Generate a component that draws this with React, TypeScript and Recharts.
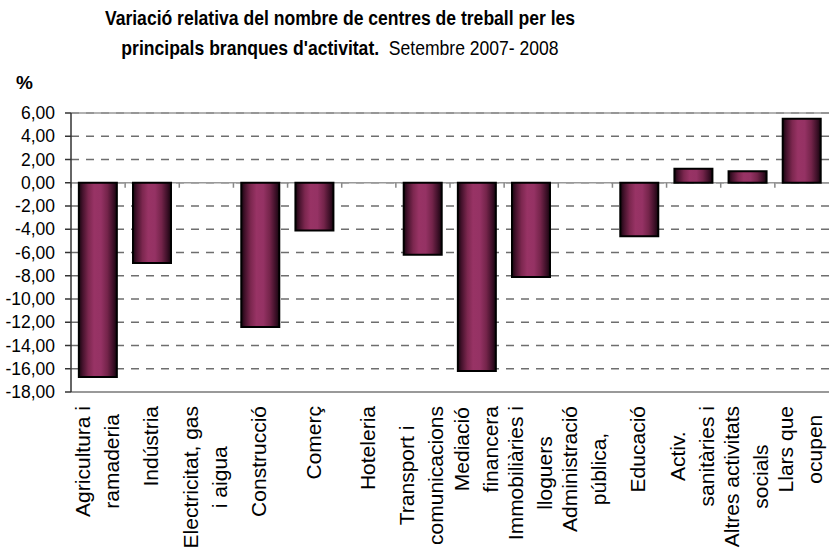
import { BarChart, Bar, XAxis, YAxis, CartesianGrid, ReferenceLine } from "recharts"

const categories = [
  "Agricultura i\nramaderia",
  "Indústria",
  "Electricitat, gas\ni aigua",
  "Construcció",
  "Comerç",
  "Hoteleria",
  "Transport i\ncomunicacions",
  "Mediació\nfinancera",
  "Immobiliàries i\nlloguers",
  "Administració\npública,",
  "Educació",
  "Activ.\nsanitàries i",
  "Altres activitats\nsocials",
  "Llars que\nocupen",
]

const variation: (number | null)[] = [-16.7, -6.9, null, -12.4, -4.1, null, -6.2, -16.2, -8.1, null, -4.6, 1.2, 1.0, 5.5]

const yTicks = [6, 4, 2, 0, -2, -4, -6, -8, -10, -12, -14, -16, -18]

const data = categories.map((name, i) => ({ name, value: variation[i] }))

const FONT = "'Liberation Sans', Arial, sans-serif"
const LABEL_SIZE = 21

let ctx: CanvasRenderingContext2D | null = null
function textWidth(s: string) {
  if (!ctx) ctx = document.createElement("canvas").getContext("2d")
  if (!ctx) return s.length * LABEL_SIZE * 0.5
  ctx.font = `${LABEL_SIZE}px 'Liberation Sans'`
  return ctx.measureText(s).width
}

// rotated labels: block top-aligned under the axis, lines centred on each other
function CategoryTick(props: any) {
  const { x, y, payload } = props
  const lines = String(payload.value).split("\n")
  const longest = Math.max(...lines.map(textWidth))
  const cy = y + 6 + longest / 2
  return (
    <g>
      {lines.map((line, k) => {
        const bx = x + (k - (lines.length - 1) / 2) * 29 + 6
        return (
          <text
            key={k}
            x={bx}
            y={cy}
            transform={`rotate(-90 ${bx} ${cy})`}
            textAnchor="middle"
            fontSize={LABEL_SIZE}
            fontFamily={FONT}
            fill="#000"
          >
            {line}
          </text>
        )
      })}
    </g>
  )
}

// category boundary ticks hanging under the zero line
function ZeroTicks(props: any) {
  const { x1, x2, y1 } = props
  const n = categories.length
  const step = (x2 - x1) / n
  return (
    <g>
      {categories.map((_, i) => (
        <line key={i} x1={x1 + i * step} x2={x1 + i * step} y1={y1} y2={y1 + 5} stroke="#888" strokeWidth={1.5} />
      ))}
    </g>
  )
}

export default function App() {
  return (
    <div style={{ position: "absolute", left: 0, top: 0, width: 829, height: 559, background: "#fff", fontFamily: FONT }}>
      <div
        style={{
          position: "absolute",
          left: 0,
          top: 3,
          width: 680,
          textAlign: "center",
          fontSize: 19.5,
          lineHeight: "30px",
          color: "#000",
          whiteSpace: "nowrap",
          transform: "scaleX(0.9)",
          transformOrigin: "340px 0",
        }}
      >
        <div style={{ fontWeight: "bold" }}>Variació relativa del nombre de centres de treball per les</div>
        <div>
          <span style={{ fontWeight: "bold" }}>principals branques d'activitat.</span>
          <span>&nbsp; Setembre 2007- 2008</span>
        </div>
      </div>
      <div style={{ position: "absolute", left: 16, top: 73, fontSize: 19, fontWeight: "bold", lineHeight: "19px" }}>%</div>

      <BarChart
        width={829}
        height={559}
        data={data}
        margin={{ top: 113, right: 0, bottom: 0, left: 0 }}
        barCategoryGap="14.5%"
      >
        <defs>
          <linearGradient id="barGrad" x1="0" y1="0" x2="1" y2="0">
            <stop offset="0%" stopColor="#16050e" />
            <stop offset="10%" stopColor="#45122c" />
            <stop offset="25%" stopColor="#7c274f" />
            <stop offset="40%" stopColor="#983365" />
            <stop offset="58%" stopColor="#953264" />
            <stop offset="75%" stopColor="#74244a" />
            <stop offset="90%" stopColor="#3e1028" />
            <stop offset="100%" stopColor="#16050e" />
          </linearGradient>
        </defs>
        <CartesianGrid vertical={false} stroke="#6e6e6e" strokeWidth={1.3} strokeDasharray="8 7" />
        <CartesianGrid vertical={false} horizontalValues={[0, 6]} stroke="#999" strokeWidth={1.5} />
        <XAxis
          dataKey="name"
          interval={0}
          height={167}
          tickLine={false}
          axisLine={{ stroke: "#999", strokeWidth: 2 }}
          tick={<CategoryTick />}
        />
        <YAxis
          domain={[-18, 6]}
          ticks={yTicks}
          width={71}
          tickSize={6}
          tickMargin={10}
          axisLine={{ stroke: "#333", strokeWidth: 1.5 }}
          tickLine={{ stroke: "#333", strokeWidth: 1.5 }}
          tick={{ fontSize: 17.5, fill: "#000", fontFamily: FONT }}
          tickFormatter={(v: number) => v.toFixed(2).replace(".", ",")}
          interval={0}
        />
        <Bar dataKey="value" fill="url(#barGrad)" stroke="#000" strokeWidth={2} isAnimationActive={false} />
        <ReferenceLine y={0} stroke="none" shape={(p: any) => <ZeroTicks {...p} />} />
      </BarChart>
    </div>
  )
}
